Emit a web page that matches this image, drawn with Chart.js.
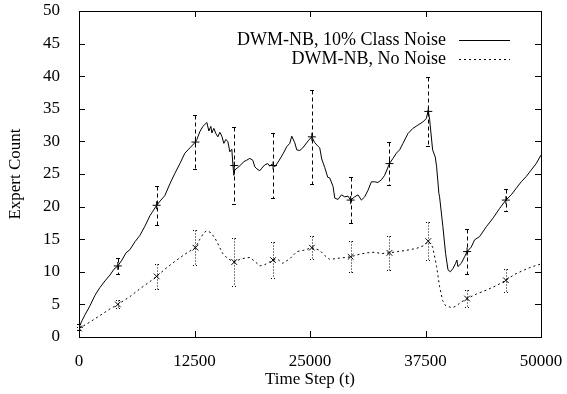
<!DOCTYPE html>
<html>
<head>
<meta charset="utf-8">
<script src="https://cdn.jsdelivr.net/npm/chart.js@4.4.1/dist/chart.umd.min.js"></script>
<style>
    html, body { margin: 0; padding: 0; background: #fff; }
    #wrap { width: 567px; height: 394px; }
</style>
</head>
<body>
<div id="wrap"><canvas id="expertChart"></canvas></div>
<script>
// Mean expert count per time step, DWM-NB with 10% class noise
const noiseT = [0, 324, 649, 1189, 1730, 2270, 2811, 3351, 3784, 4200, 4649, 5081, 5514, 6054, 6595, 7135, 7676, 8000, 8400,
    8865, 9297, 9838, 10378, 10919, 11459, 12000, 12600, 12762, 13081, 13405, 13838, 14054, 14270, 14378, 14595, 14811,
    15027, 15243, 15459, 15676, 15892, 16108, 16324, 16540, 16650, 16760, 16850, 17113, 17513, 17838, 18130, 18486, 18811,
    19027, 19243, 19568, 19784, 20108, 20432, 20648, 20865, 21000, 21189, 21622, 22086, 22486, 22811, 23027, 23351, 23568,
    23892, 24216, 24541, 24865, 25200, 25514, 25838, 26054, 26270, 26595, 26919, 27135, 27495, 27676, 28032, 28400, 28757,
    29113, 29400, 29838, 30195, 30562, 30919, 31276, 31643, 32000, 32357, 32724, 33081, 33600, 33984, 34351, 34703, 35059,
    35600, 36140, 36681, 37221, 37589, 37800, 37950, 38270, 38557, 38703, 38951, 39024, 39384, 39676, 39935, 40189, 40470,
    40757, 40897, 41005, 41373, 41730, 42000, 42454, 42811, 43351, 44076, 44789, 45513, 46200, 46776, 47316, 47857, 48397,
    48938, 49478, 50000];
const noiseY = [1.5, 2.5, 3.4, 4.8, 6.4, 7.6, 8.6, 9.5, 10.4, 10.9, 11.8, 12.9, 13.4, 14.6, 15.6, 17.0, 18.6, 19.3, 20.2,
    21.0, 21.7, 23.5, 25.1, 26.6, 28.2, 29.0, 29.9, 30.3, 31.5, 32.3, 32.9, 31.6, 32.3, 31.3, 32.0, 31.2,
    30.7, 31.4, 30.8, 29.7, 30.3, 30.0, 28.4, 28.8, 26.5, 24.8, 25.6, 25.9, 26.4, 26.9, 27.1, 27.4, 27.1,
    26.1, 25.8, 25.5, 25.9, 26.4, 26.6, 26.2, 26.5, 26.3, 26.1, 27.0, 28.1, 29.2, 29.7, 30.8, 29.8, 28.7,
    28.6, 29.0, 29.6, 30.2, 30.7, 29.8, 29.3, 29.0, 27.3, 26.0, 24.5, 24.4, 23.1, 21.3, 21.1, 21.8, 21.5,
    21.6, 21.0, 21.5, 21.8, 21.0, 21.5, 22.5, 23.8, 23.8, 23.7, 24.1, 24.8, 26.6, 27.4, 28.2, 28.7, 29.7,
    31.2, 32.0, 32.5, 33.0, 33.5, 34.8, 33.3, 28.7, 27.6, 26.1, 22.0, 21.5, 16.9, 12.8, 10.3, 10.0, 10.5,
    11.3, 11.8, 10.8, 11.3, 12.3, 13.1, 13.8, 14.9, 15.4, 16.9, 18.2, 19.7, 21.0, 21.8, 22.8, 23.8, 24.6,
    25.6, 26.6, 27.9];

// Mean expert count per time step, DWM-NB without noise
const cleanT = [0, 1189, 2270, 3351, 4200, 5514, 6595, 7676, 8400, 9297, 10378, 11459, 12600, 13081, 13514, 13838, 14270,
    14703, 15135, 15568, 16108, 16800, 17405, 17946, 18486, 19027, 19568, 20108, 21000, 21514, 22054, 22811, 23568,
    24324, 25200, 26054, 26595, 27135, 28216, 29400, 30378, 31135, 32000, 32757, 33600, 34486, 35459, 36540, 37297,
    37800, 38270, 38703, 39027, 39351, 39676, 40108, 40432, 40865, 41297, 42000, 43027, 44108, 45189, 46200, 47135,
    48216, 49081, 50000];
const cleanY = [1.3, 2.3, 3.3, 4.3, 5.0, 6.2, 7.4, 8.5, 9.3, 10.4, 11.6, 12.7, 13.7, 15.0, 16.0, 16.3, 16.0,
    15.2, 14.0, 12.8, 12.0, 11.5, 11.9, 12.1, 12.2, 11.6, 10.9, 11.1, 11.8, 11.9, 11.3, 12.0, 13.1,
    13.3, 13.7, 13.3, 12.5, 11.9, 12.1, 12.3, 12.7, 12.9, 13.0, 12.8, 12.9, 13.1, 13.3, 13.6, 14.0,
    14.7, 13.8, 10.8, 7.7, 5.6, 4.8, 4.6, 4.5, 4.8, 5.3, 5.9, 6.6, 7.2, 7.9, 8.7, 9.6,
    10.3, 10.8, 11.2];

// Sampled steps with standard deviation bars
const markerT = [0, 4200, 8400, 12600, 16800, 21000, 25200, 29400, 33600, 37800, 42000, 46200];
const noiseMean = [1.5, 10.9, 20.2, 29.9, 26.3, 26.3, 30.7, 21.0, 26.6, 34.6, 13.1, 21.0];
const noiseErr = [0.5, 1.2, 3.0, 4.2, 5.9, 5.0, 7.2, 3.5, 3.3, 5.3, 3.5, 1.7];
const cleanMean = [1.3, 5.0, 9.3, 13.7, 11.5, 11.8, 13.7, 12.3, 12.9, 14.7, 5.9, 8.7];
const cleanErr = [0.3, 0.6, 1.9, 2.7, 3.7, 2.7, 1.8, 2.4, 2.6, 2.9, 1.3, 1.8];

const xTicks = [0, 12500, 25000, 37500, 50000];
const legendLabels = ['DWM-NB, 10% Class Noise', 'DWM-NB, No Noise'];

const SERIF = '"Liberation Serif", "Times New Roman", serif';

const toPoints = (xs, ys) => xs.map((x, i) => ({ x: x, y: ys[i] }));

// frame, inward ticks on all four sides, legend
const framePlugin = {
    id: 'frame',
    afterDraw(chart) {
        const { ctx, chartArea: a, scales } = chart;
        ctx.save();
        ctx.strokeStyle = '#000';
        ctx.lineWidth = 1;
        ctx.setLineDash([]);
        ctx.strokeRect(Math.round(a.left) + 0.5, Math.round(a.top) + 0.5,
            Math.round(a.right - a.left), Math.round(a.bottom - a.top));
        const len = 6;
        ctx.beginPath();
        for (let v = 0; v <= 50; v += 5) {
            const y = Math.round(scales.y.getPixelForValue(v)) + 0.5;
            ctx.moveTo(a.left, y); ctx.lineTo(a.left + len, y);
            ctx.moveTo(a.right, y); ctx.lineTo(a.right - len, y);
        }
        xTicks.forEach(v => {
            const x = Math.round(scales.x.getPixelForValue(v)) + 0.5;
            ctx.moveTo(x, a.bottom); ctx.lineTo(x, a.bottom - len);
            ctx.moveTo(x, a.top); ctx.lineTo(x, a.top + len);
        });
        ctx.stroke();

        // legend
        ctx.font = '18px ' + SERIF;
        ctx.fillStyle = '#000';
        ctx.textAlign = 'right';
        ctx.textBaseline = 'middle';
        const rows = [40, 59];
        legendLabels.forEach((label, i) => {
            ctx.fillText(label, 446, rows[i]);
            ctx.beginPath();
            ctx.setLineDash(i === 0 ? [] : [2, 3]);
            ctx.moveTo(459, rows[i] + 0.5);
            ctx.lineTo(510, rows[i] + 0.5);
            ctx.stroke();
        });
        ctx.restore();
    }
};

// vertical error bars with small caps
const errorBarPlugin = {
    id: 'errorBars',
    afterDatasetsDraw(chart) {
        const { ctx, scales } = chart;
        const drawBars = (means, errs, dash) => {
            ctx.setLineDash(dash);
            means.forEach((m, i) => {
                const x = Math.round(scales.x.getPixelForValue(markerT[i])) + 0.5;
                const yTop = Math.round(scales.y.getPixelForValue(m + errs[i])) + 0.5;
                const yBot = Math.round(scales.y.getPixelForValue(Math.max(0, m - errs[i]))) + 0.5;
                ctx.beginPath();
                ctx.moveTo(x, yTop); ctx.lineTo(x, yBot);
                ctx.moveTo(x - 2.5, yTop); ctx.lineTo(x + 2.5, yTop);
                ctx.moveTo(x - 2.5, yBot); ctx.lineTo(x + 2.5, yBot);
                ctx.stroke();
            });
        };
        ctx.save();
        ctx.strokeStyle = '#000';
        ctx.lineWidth = 1;
        drawBars(noiseMean, noiseErr, [4, 3]);
        drawBars(cleanMean, cleanErr, [1, 2]);
        ctx.restore();
    }
};

new Chart(document.getElementById('expertChart'), {
    type: 'line',
    data: {
        datasets: [
            {
                data: toPoints(noiseT, noiseY),
                borderColor: '#000',
                borderWidth: 1,
                pointRadius: 0,
                tension: 0
            },
            {
                data: toPoints(cleanT, cleanY),
                borderColor: '#000',
                borderWidth: 1,
                borderDash: [2, 3],
                pointRadius: 0,
                tension: 0
            },
            {
                data: toPoints(markerT, noiseMean),
                showLine: false,
                pointStyle: 'cross',
                pointRadius: 4,
                borderColor: '#000',
                borderWidth: 1
            },
            {
                data: toPoints(markerT, cleanMean),
                showLine: false,
                pointStyle: 'crossRot',
                pointRadius: 4,
                borderColor: '#000',
                borderWidth: 1
            }
        ]
    },
    options: {
        responsive: true,
        maintainAspectRatio: false,
        animation: false,
        layout: { padding: { left: 0, right: 26, top: 11, bottom: 0 } },
        plugins: {
            legend: { display: false },
            tooltip: { enabled: false }
        },
        scales: {
            x: {
                type: 'linear',
                min: 0,
                max: 50000,
                grid: { display: false },
                border: { display: false },
                afterBuildTicks: scale => { scale.ticks = xTicks.map(v => ({ value: v })); },
                afterFit: scale => {
                    scale.height = 57;
                    scale.paddingLeft = 0;
                    scale.paddingRight = 0;
                },
                ticks: {
                    color: '#000',
                    font: { family: SERIF, size: 17 },
                    padding: 6,
                    maxRotation: 0,
                    callback: v => String(v)
                },
                title: {
                    display: true,
                    text: 'Time Step (t)',
                    color: '#000',
                    font: { family: SERIF, size: 17 },
                    padding: { top: 2 }
                }
            },
            y: {
                min: 0,
                max: 50,
                grid: { display: false },
                border: { display: false },
                afterFit: scale => {
                    scale.width = 79;
                    scale.paddingTop = 0;
                    scale.paddingBottom = 0;
                },
                ticks: {
                    stepSize: 5,
                    color: '#000',
                    font: { family: SERIF, size: 17 },
                    padding: 11
                },
                title: {
                    display: true,
                    text: 'Expert Count',
                    color: '#000',
                    font: { family: SERIF, size: 17 },
                    padding: { top: 5, bottom: 0 }
                }
            }
        }
    },
    plugins: [errorBarPlugin, framePlugin]
});
</script>
</body>
</html>
